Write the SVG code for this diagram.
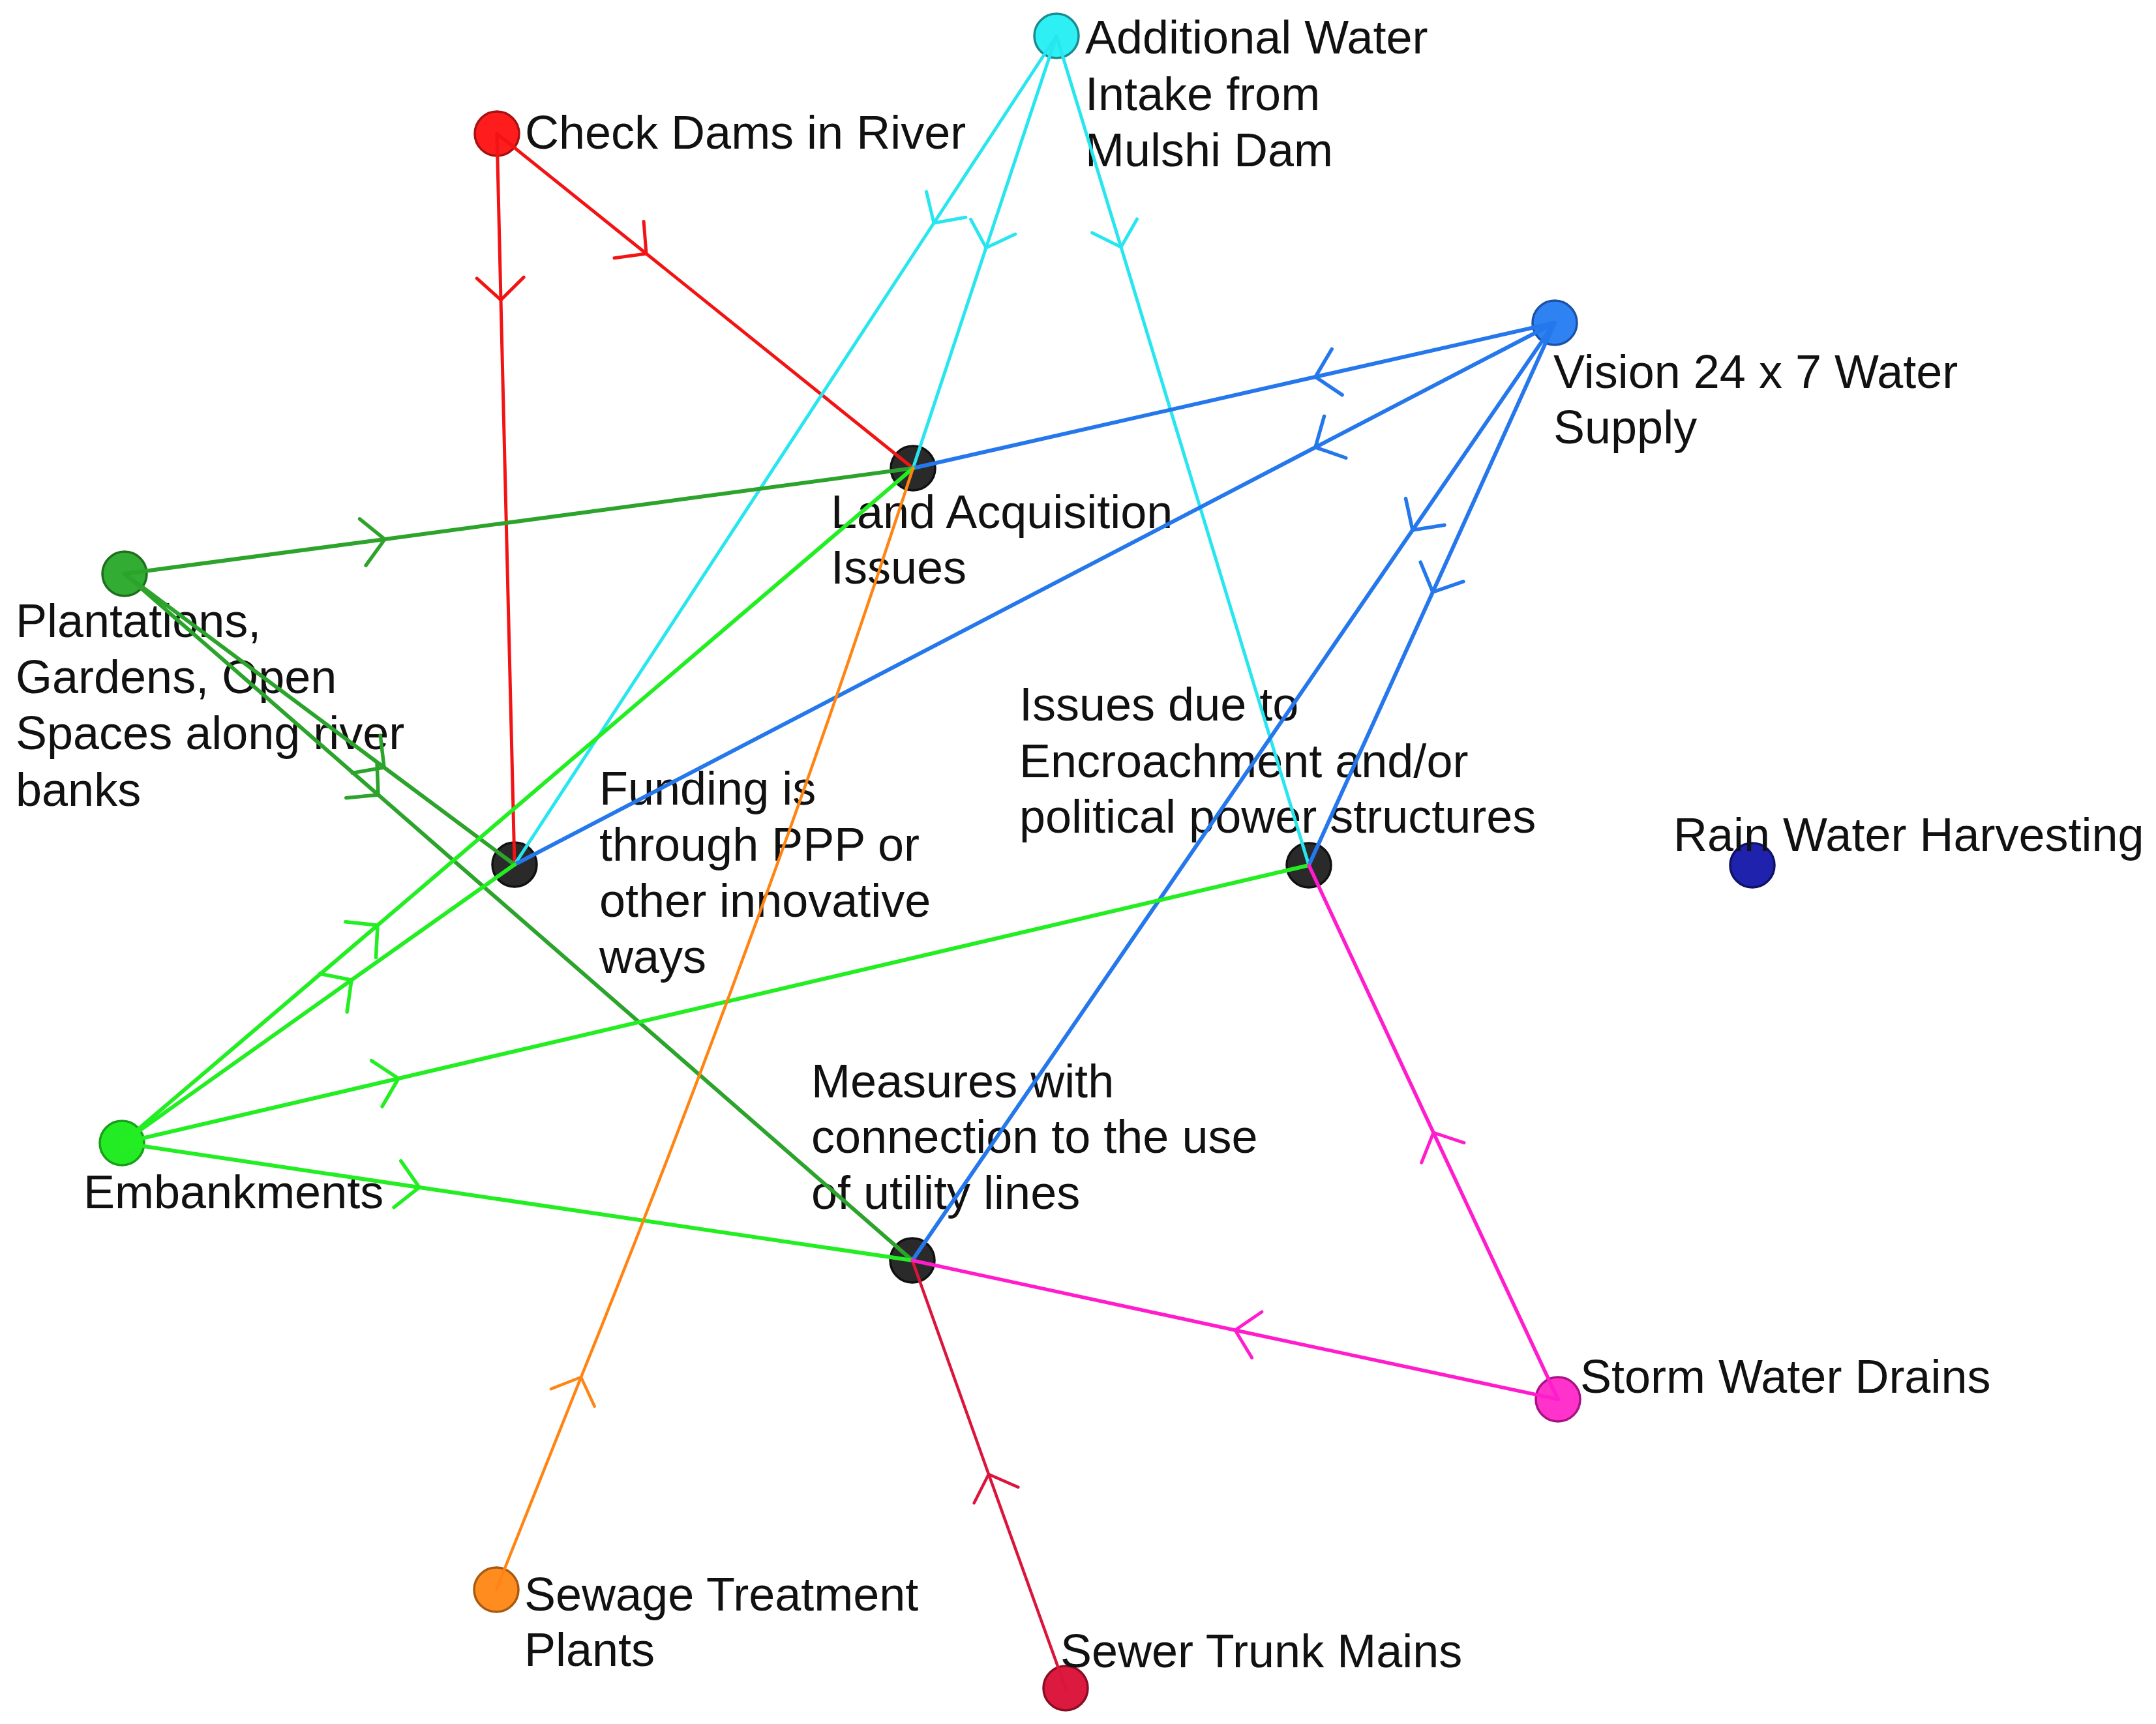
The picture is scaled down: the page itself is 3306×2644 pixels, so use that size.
<svg xmlns="http://www.w3.org/2000/svg" width="3306" height="2644" viewBox="0 0 3306 2644">
<style>
.lbl{font-family:"Liberation Sans",Arial,Helvetica,sans-serif;font-size:72px;fill:#111111;}
.n{stroke-width:3.5;}
.e{fill:none;stroke-linecap:round;stroke-linejoin:round;}
.red{stroke:#f21414;stroke-width:5;marker-mid:url(#a-red);}
.cyan{stroke:#27e6ef;stroke-width:5;marker-mid:url(#a-cyan);}
.blue{stroke:#2577ec;stroke-width:6;marker-mid:url(#a-blue);}
.dgreen{stroke:#2ca42c;stroke-width:6;marker-mid:url(#a-dgreen);}
.lgreen{stroke:#22ee22;stroke-width:6;marker-mid:url(#a-lgreen);}
.orange{stroke:#ff8412;stroke-width:4.5;marker-mid:url(#a-orange);}
.crimson{stroke:#dc143c;stroke-width:4.5;marker-mid:url(#a-crimson);}
.magenta{stroke:#ff1ccc;stroke-width:5.5;marker-mid:url(#a-magenta);}
</style>
<defs>
<marker id="a-red" markerUnits="userSpaceOnUse" viewBox="-60 -60 120 120" markerWidth="120" markerHeight="120" refX="0" refY="0" orient="auto"><path d="M-34,-36 L0,0 L-34,36" fill="none" stroke="#f21414" stroke-width="5" stroke-linecap="round"/></marker>
<marker id="a-cyan" markerUnits="userSpaceOnUse" viewBox="-60 -60 120 120" markerWidth="120" markerHeight="120" refX="0" refY="0" orient="auto"><path d="M-34,-36 L0,0 L-34,36" fill="none" stroke="#27e6ef" stroke-width="5" stroke-linecap="round"/></marker>
<marker id="a-blue" markerUnits="userSpaceOnUse" viewBox="-60 -60 120 120" markerWidth="120" markerHeight="120" refX="0" refY="0" orient="auto"><path d="M-34,-36 L0,0 L-34,36" fill="none" stroke="#2577ec" stroke-width="5.5" stroke-linecap="round"/></marker>
<marker id="a-dgreen" markerUnits="userSpaceOnUse" viewBox="-60 -60 120 120" markerWidth="120" markerHeight="120" refX="0" refY="0" orient="auto"><path d="M-34,-36 L0,0 L-34,36" fill="none" stroke="#2ca42c" stroke-width="5.5" stroke-linecap="round"/></marker>
<marker id="a-lgreen" markerUnits="userSpaceOnUse" viewBox="-60 -60 120 120" markerWidth="120" markerHeight="120" refX="0" refY="0" orient="auto"><path d="M-34,-36 L0,0 L-34,36" fill="none" stroke="#22ee22" stroke-width="5.5" stroke-linecap="round"/></marker>
<marker id="a-orange" markerUnits="userSpaceOnUse" viewBox="-60 -60 120 120" markerWidth="120" markerHeight="120" refX="0" refY="0" orient="auto"><path d="M-34,-36 L0,0 L-34,36" fill="none" stroke="#ff8412" stroke-width="4.5" stroke-linecap="round"/></marker>
<marker id="a-crimson" markerUnits="userSpaceOnUse" viewBox="-60 -60 120 120" markerWidth="120" markerHeight="120" refX="0" refY="0" orient="auto"><path d="M-34,-36 L0,0 L-34,36" fill="none" stroke="#dc143c" stroke-width="4.5" stroke-linecap="round"/></marker>
<marker id="a-magenta" markerUnits="userSpaceOnUse" viewBox="-60 -60 120 120" markerWidth="120" markerHeight="120" refX="0" refY="0" orient="auto"><path d="M-34,-36 L0,0 L-34,36" fill="none" stroke="#ff1ccc" stroke-width="5" stroke-linecap="round"/></marker>
</defs>
<rect width="3306" height="2644" fill="#ffffff"/>

<g id="node-check-dams">
<circle class="n" cx="762" cy="205" r="34" fill="#ff1c1c" stroke="#a81212"/>
<text class="lbl" x="805" y="228">Check Dams in River</text>
</g>
<g id="node-additional-water">
<circle class="n" cx="1620" cy="55" r="34" fill="#2ef0f4" stroke="#1a8c92"/>
<text class="lbl" x="1664" y="82">Additional Water<tspan x="1664" dy="87">Intake from</tspan><tspan x="1664" dy="86">Mulshi Dam</tspan></text>
</g>
<g id="node-vision">
<circle class="n" cx="2384" cy="495" r="34" fill="#2f82f2" stroke="#1b52a8"/>
<text class="lbl" x="2382" y="595">Vision 24 x 7 Water<tspan x="2382" dy="85">Supply</tspan></text>
</g>
<g id="node-land-acquisition">
<circle class="n" cx="1400" cy="718" r="34" fill="#2a2a2a" stroke="#111111"/>
<text class="lbl" x="1274" y="810">Land Acquisition<tspan x="1274" dy="85">Issues</tspan></text>
</g>
<g id="node-plantations">
<circle class="n" cx="191" cy="880" r="34" fill="#33ac33" stroke="#1d6e1d"/>
<text class="lbl" x="24" y="977">Plantations,<tspan x="24" dy="86">Gardens, Open</tspan><tspan x="24" dy="86">Spaces along river</tspan><tspan x="24" dy="87">banks</tspan></text>
</g>
<g id="node-funding">
<circle class="n" cx="789" cy="1326" r="34" fill="#2a2a2a" stroke="#111111"/>
<text class="lbl" x="919" y="1234">Funding is<tspan x="919" dy="86">through PPP or</tspan><tspan x="919" dy="86">other innovative</tspan><tspan x="919" dy="86">ways</tspan></text>
</g>
<g id="node-issues-encroachment">
<circle class="n" cx="2007" cy="1327" r="34" fill="#2a2a2a" stroke="#111111"/>
<text class="lbl" x="1563" y="1105">Issues due to<tspan x="1563" dy="87">Encroachment and/or</tspan><tspan x="1563" dy="85">political power structures</tspan></text>
</g>
<g id="node-rain-water">
<circle class="n" cx="2687" cy="1327" r="34" fill="#1e22ac" stroke="#0f1266"/>
<text class="lbl" x="2566" y="1305">Rain Water Harvesting</text>
</g>
<g id="node-embankments">
<circle class="n" cx="187" cy="1753" r="34" fill="#24ec24" stroke="#17a017"/>
<text class="lbl" x="128" y="1853">Embankments</text>
</g>
<g id="node-measures">
<circle class="n" cx="1399" cy="1933" r="34" fill="#2a2a2a" stroke="#111111"/>
<text class="lbl" x="1244" y="1683">Measures with<tspan x="1244" dy="85">connection to the use</tspan><tspan x="1244" dy="86">of utility lines</tspan></text>
</g>
<g id="node-storm-water">
<circle class="n" cx="2389" cy="2146" r="34" fill="#ff33cc" stroke="#a81282"/>
<text class="lbl" x="2423" y="2136">Storm Water Drains</text>
</g>
<g id="node-sewage-treatment">
<circle class="n" cx="761" cy="2438" r="34" fill="#ff8c1e" stroke="#a85a12"/>
<text class="lbl" x="804" y="2470">Sewage Treatment<tspan x="804" dy="85">Plants</tspan></text>
</g>
<g id="node-sewer-trunk">
<circle class="n" cx="1634" cy="2589" r="34" fill="#dc1a40" stroke="#8c0c24"/>
<text class="lbl" x="1626" y="2557">Sewer Trunk Mains</text>
</g>

<g id="connectors">
<path class="e red" d="M762,205 L768,460 L789,1326"/>
<path class="e red" d="M762,205 L991,389 L1400,718"/>
<path class="e cyan" d="M1620,55 L1432,342 L789,1326"/>
<path class="e cyan" d="M1620,55 L1512,380 L1400,718"/>
<path class="e cyan" d="M1620,55 L1719,379 L2007,1327"/>
<path class="e blue" d="M2384,495 L2017,578 L1400,718"/>
<path class="e blue" d="M2384,495 L2017,686 L789,1326"/>
<path class="e blue" d="M2384,495 L2166,813 L1399,1933"/>
<path class="e blue" d="M2384,495 L2197,908 L2007,1327"/>
<path class="e dgreen" d="M191,880 L590,827 L1400,718"/>
<path class="e dgreen" d="M191,880 L589,1177 L789,1326"/>
<path class="e dgreen" d="M191,880 L580,1219 L1399,1933"/>
<path class="e lgreen" d="M187,1753 L579,1419 L1400,718"/>
<path class="e lgreen" d="M187,1753 L539,1503 L789,1326"/>
<path class="e lgreen" d="M187,1753 L611,1654 L2007,1327"/>
<path class="e lgreen" d="M187,1753 L643,1821 L1399,1933"/>
<path class="e orange" d="M761,2438 L891,2112 Q1170,1424 1400,718"/>
<path class="e crimson" d="M1634,2589 L1516,2261 L1399,1933"/>
<path class="e magenta" d="M2389,2146 L1894,2040 L1399,1933"/>
<path class="e magenta" d="M2389,2146 L2198,1737 L2007,1327"/>
</g>
</svg>
